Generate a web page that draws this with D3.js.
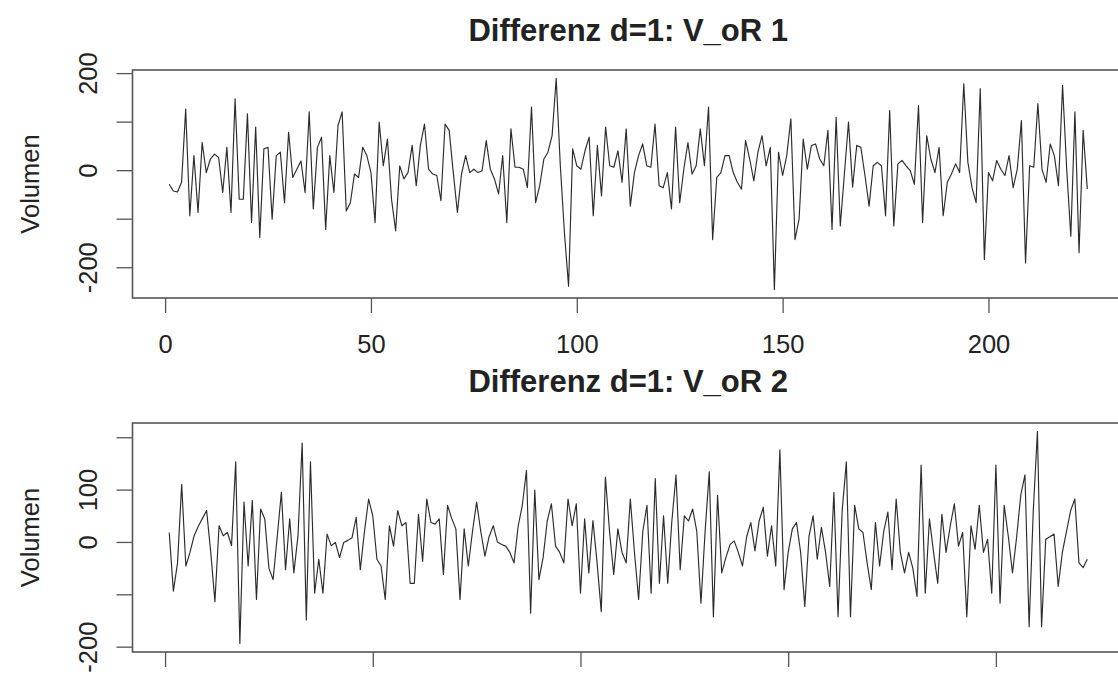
<!DOCTYPE html>
<html><head><meta charset="utf-8">
<script src="https://cdn.jsdelivr.net/npm/d3@7"></script>
<style>
body{margin:0;background:#fff}
svg{display:block}
text{font-family:"Liberation Sans",Arial,sans-serif;fill:#222}
</style>
</head><body>
<svg id="c" width="1118" height="675"></svg>
<script>
// Differenced series, d=1 (index 1..n)
const seriesTop = [
 -29,-43,-45,-25,126,-94,30,-87,57,-5,
 23,33,26,-46,47,-87,147,-60,-60,116,
 -108,89,-139,44,47,-101,30,37,-67,78,
 -15,2,19,-46,120,-80,47,68,-122,30,
 -46,92,120,-84,-67,-8,-15,47,30,-5,
 -108,99,9,64,-60,-125,9,-18,-5,51,
 -32,51,95,2,-8,-11,-63,95,82,-5,
 -87,-8,30,-5,2,-5,-1,61,2,-18,
 -49,30,-108,85,6,6,2,-36,130,-67,
 -32,23,37,71,189,9,-129,-239,44,9,
 2,40,68,-94,51,-53,89,9,6,40,
 -25,85,-74,-5,30,54,9,6,95,-32,
 -36,-5,-80,89,-67,2,57,-8,9,85,
 9,130,-143,-15,-5,30,30,-5,-25,-39,
 61,23,-22,37,71,9,47,-246,37,-11,
 30,106,-143,-101,64,2,51,54,23,9,
 82,-122,109,-115,-8,99,-35,51,47,-11,
 -74,9,16,9,-94,123,-115,13,20,9,
 -1,-29,133,-108,71,23,-5,47,-94,-25,
 -8,13,-5,178,16,-36,-67,168,-184,-5,
 -22,20,2,-11,30,-36,2,102,-191,9,
 6,137,2,-25,54,30,-32,175,2,-136,
 120,-170,82,-39
];
const seriesBottom = [
 18,-94,-40,110,-46,-20,12,30,45,60,
 -20,-114,31,12,18,-7,153,-194,76,-46,
 79,-110,63,44,-50,-72,10,95,-53,44,
 -59,12,189,-149,153,-98,-33,-98,15,-7,
 -1,-30,-1,3,8,47,-53,20,82,50,
 -33,-46,-110,31,-8,60,31,37,-79,-79,
 53,-37,82,37,34,44,-62,70,45,25,
 -110,25,-46,20,76,20,-27,10,31,0,
 -5,-8,-20,-40,30,70,137,-136,99,-72,
 -30,40,73,-8,-20,-40,82,31,73,-98,
 44,-59,41,-40,-133,124,20,-62,25,-20,
 -40,82,-20,-110,20,70,-98,121,-79,50,
 -79,40,128,-53,50,40,63,20,-117,20,
 134,-143,89,-59,-30,-5,2,-20,-46,10,
 37,-17,40,66,-27,31,-46,176,-91,-20,
 25,37,-20,-123,10,50,-33,28,-20,-85,
 95,-143,60,153,-143,70,25,18,-40,-91,
 37,-46,20,57,-53,82,-20,-59,-20,-50,
 -104,147,-98,44,-20,-79,53,-20,30,73,
 -8,18,-143,31,-14,70,-20,5,-98,147,
 -117,70,10,-59,10,90,128,-162,60,211,
 -162,5,10,15,-85,-20,20,60,82,-40,
 -49,-33
];
const titles = ["Differenz d=1: V_oR 1", "Differenz d=1: V_oR 2"];
const xTicks = [0, 50, 100, 150, 200];
const yTicks = [-200, -100, 0, 100, 200];
const yLabelsTop = [200, 0, -200];
const yLabelsBottom = [100, 0, -200];
const yTitle = "Volumen";

const svg = d3.select("#c");
const FS = 25.5;
const left = 132.5, right = 1124;
const panels = [
  {data: seriesTop, title: titles[0], top: 70, bottom: 298, yLabels: yLabelsTop, titleY: 41, xLabels: true},
  {data: seriesBottom, title: titles[1], top: 423, bottom: 652, yLabels: yLabelsBottom, titleY: 392, xLabels: false}
];

panels.forEach(p => {
  const n = p.data.length;
  const padX = 0.04 * (n - 1);
  const x = d3.scaleLinear().domain([1 - padX, n + padX]).range([left, right]);
  const [mn, mx] = d3.extent(p.data);
  const padY = 0.04 * (mx - mn);
  const y = d3.scaleLinear().domain([mn - padY, mx + padY]).range([p.bottom, p.top]);
  const g = svg.append("g");

  g.append("path").datum(p.data)
    .attr("d", d3.line().x((d, i) => x(i + 1)).y(d => y(d)))
    .attr("fill", "none").attr("stroke", "#2b2b2b").attr("stroke-width", 1.15)
    .attr("stroke-linejoin", "round");

  g.append("rect").attr("x", left).attr("y", p.top)
    .attr("width", right - left).attr("height", p.bottom - p.top)
    .attr("fill", "none").attr("stroke", "#555").attr("stroke-width", 1.6);

  // bottom panel's tick labels fall below the visible picture in the reference
  const xa = g.append("g").attr("transform", `translate(0,${p.bottom})`)
    .call(d3.axisBottom(x).tickValues(xTicks).tickSize(15).tickPadding(22)
      .tickFormat(d => p.xLabels ? d3.format("d")(d) : ""));
  xa.select(".domain").remove();
  xa.selectAll(".tick line").attr("stroke", "#555").attr("stroke-width", 1.3);
  xa.selectAll(".tick text").attr("font-size", FS).attr("fill", "#222").style("font-family", '"Liberation Sans",Arial,sans-serif');

  const ya = g.append("g").attr("transform", `translate(${left},0)`)
    .call(d3.axisLeft(y).tickValues(yTicks).tickSize(16)
      .tickFormat(d => p.yLabels.includes(d) ? String(d) : ""));
  ya.select(".domain").remove();
  ya.selectAll(".tick line").attr("stroke", "#555").attr("stroke-width", 1.3);
  ya.selectAll(".tick text")
    .attr("transform", "rotate(-90)")
    .attr("x", 0).attr("y", -44).attr("dy", "0.35em")
    .attr("text-anchor", "middle")
    .attr("font-size", FS).attr("fill", "#222").style("font-family", '"Liberation Sans",Arial,sans-serif');

  svg.append("text")
    .attr("transform", `translate(30,${(p.top + p.bottom) / 2}) rotate(-90)`)
    .attr("text-anchor", "middle").attr("dy", "0.35em")
    .attr("font-size", FS).text(yTitle);

  svg.append("text")
    .attr("x", (left + right) / 2).attr("y", p.titleY)
    .attr("text-anchor", "middle").attr("font-weight", "bold")
    .attr("font-size", 31).text(p.title);
});
</script>
</body></html>
